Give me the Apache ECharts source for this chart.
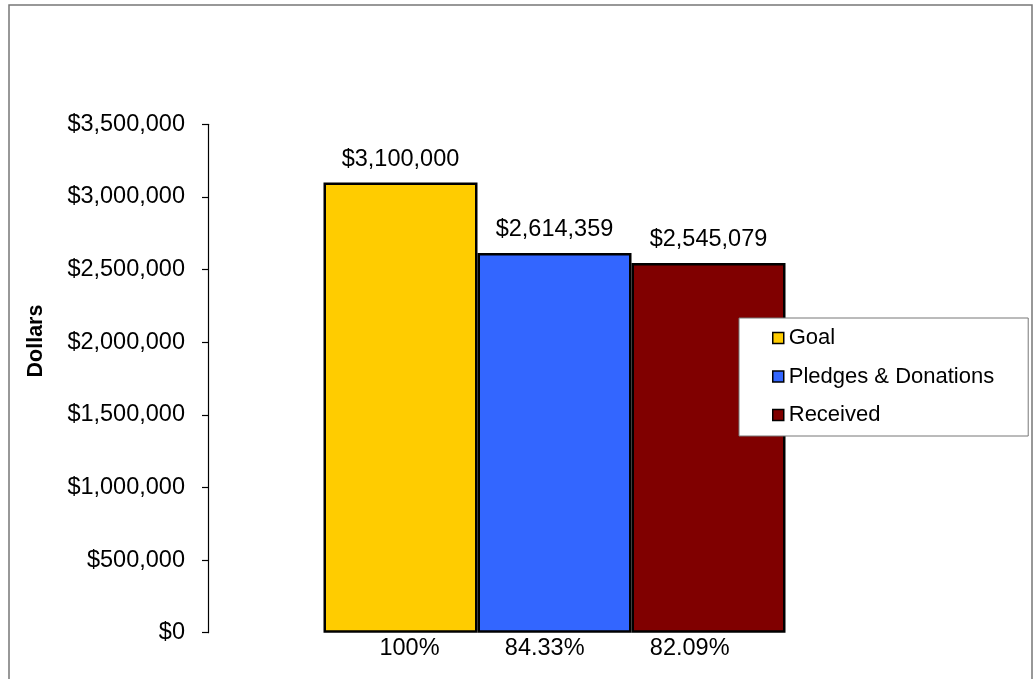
<!DOCTYPE html>
<html>
<head>
<meta charset="utf-8">
<script src="https://cdn.jsdelivr.net/npm/echarts@6/dist/echarts.min.js"></script>
<style>
html,body{margin:0;padding:0;background:#fff;}
#chart{width:1033px;height:679px;}
</style>
</head>
<body>
<div id="chart"></div>
<script>
var seriesNames = ['Goal', 'Pledges & Donations', 'Received'];
var seriesValues = [3100000, 2614359, 2545079];
var seriesColors = ['#FFCC00', '#3366FF', '#800000'];
var pctLabels = ['100%', '84.33%', '82.09%'];
var yTicks = { min: 0, max: 3500000, interval: 500000 };
var axisTitle = 'Dollars';

var FONT = 'Liberation Sans, Arial, sans-serif';
function money(v) { return '$' + Number(v).toLocaleString('en-US'); }
var spacer = '          ';
var categoryLabel = pctLabels.join(spacer);

var chart = echarts.init(document.getElementById('chart'), null, { renderer: 'canvas' });

var series = seriesNames.map(function (name, i) {
  return {
    name: name,
    type: 'bar',
    data: [seriesValues[i]],
    barWidth: 154,
    barGap: '0%',
    itemStyle: { color: seriesColors[i], borderColor: '#000', borderWidth: 2.5 },
    label: {
      show: true,
      position: 'top',
      distance: 11,
      formatter: function (p) { return money(p.value); },
      color: '#000',
      fontSize: 23.5,
      fontFamily: FONT
    },
    emphasis: { disabled: true },
    animation: false
  };
});

chart.setOption({
  backgroundColor: '#fff',
  animation: false,
  grid: { left: 208, right: 132, top: 124.3, bottom: 46.3, containLabel: false },
  xAxis: {
    type: 'category',
    data: [categoryLabel],
    axisLine: { show: false },
    axisTick: { show: false },
    axisLabel: { color: '#000', fontSize: 23.5, fontFamily: FONT, margin: 4 }
  },
  yAxis: {
    type: 'value',
    min: yTicks.min,
    max: yTicks.max,
    interval: yTicks.interval,
    axisLine: { show: true, lineStyle: { color: '#000', width: 1.2 } },
    axisTick: { show: true, inside: false, length: 6, lineStyle: { color: '#000', width: 1.2 } },
    splitLine: { show: false },
    axisLabel: { color: '#000', fontSize: 23.5, fontFamily: FONT, margin: 23, formatter: money }
  },
  legend: {
    orient: 'vertical',
    left: 739,
    top: 318,
    padding: [9, 34, 10, 33],
    itemGap: 16.5,
    itemWidth: 11,
    itemHeight: 11,
    icon: 'rect',
    backgroundColor: '#fff',
    borderColor: '#777',
    borderWidth: 1,
    itemStyle: { borderColor: '#000', borderWidth: 1.5 },
    textStyle: { color: '#000', fontSize: 22, fontFamily: FONT },
    selectedMode: false,
    data: seriesNames
  },
  graphic: [
    {
      type: 'rect',
      shape: { x: 9, y: 5, width: 1023, height: 700 },
      style: { fill: 'none', stroke: '#777', lineWidth: 1.5 },
      silent: true,
      z: 0
    },
    {
      type: 'text',
      x: 36,
      y: 341,
      rotation: Math.PI / 2,
      style: {
        text: axisTitle,
        fill: '#000',
        font: 'bold 21.5px ' + FONT,
        align: 'center',
        verticalAlign: 'middle'
      },
      silent: true
    }
  ],
  series: series
});
</script>
</body>
</html>
